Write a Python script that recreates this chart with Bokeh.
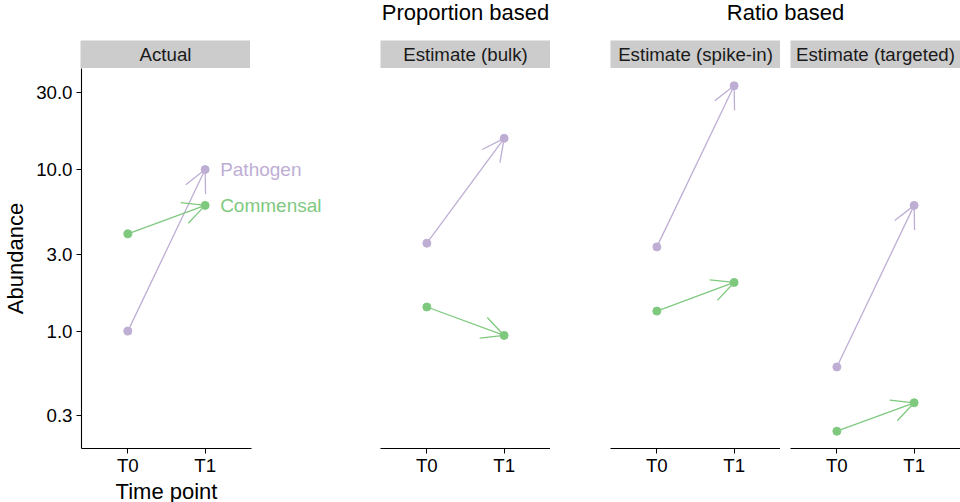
import math
from bokeh.plotting import figure
from bokeh.layouts import row, column
from bokeh.models import (Range1d, FixedTicker, NumeralTickFormatter, Arrow, OpenHead,
                          ColumnDataSource, Spacer, LabelSet)
from bokeh.core.properties import value
from bokeh.embed import file_html
from bokeh.resources import INLINE

# ---------------- data ----------------
times = ["T0", "T1"]
panels = ["Actual", "Estimate (bulk)", "Estimate (spike-in)", "Estimate (targeted)"]
groups = ["Proportion based", "Ratio based"]
species = ["Pathogen", "Commensal"]
colors = ["#BEAED4", "#7FC97F"]
x_title = "Time point"
y_title = "Abundance"

pathogen_actual = [1.0, 10.0]
commensal_actual = [4.0, 6.0]
pathogen_bulk = [3.5, 15.6]
commensal_bulk = [1.41, 0.94]
pathogen_spike = [3.32, 33.0]
commensal_spike = [1.33, 2.0]
pathogen_targeted = [0.60, 6.0]
commensal_targeted = [0.24, 0.36]

y_ticks = [0.3, 1.0, 3.0, 10.0, 30.0]

panel_data = [
    (pathogen_actual, commensal_actual),
    (pathogen_bulk, commensal_bulk),
    (pathogen_spike, commensal_spike),
    (pathogen_targeted, commensal_targeted),
]

# ---------------- scales ----------------
xpos = [i + 1 for i in range(len(times))]
all_vals = [v for pair in panel_data for s in pair for v in s]
lo, hi = math.log10(min(all_vals)), math.log10(max(all_vals))
pad = 0.05 * (hi - lo)
y_range = Range1d(10 ** (lo - pad), 10 ** (hi + pad))
x_pad = 0.6
x_lo, x_hi = xpos[0] - x_pad, xpos[-1] + x_pad

FONT = "Liberation Sans"
W = 170
FH = 380
BOTTOM = 54
P1_BOTTOM = 27
LABEL_SPACE = 90  # room on the right of the first panel for the series labels
lefts = [80, 39, 60, 10]
rights = [0, 0, 0, 1]
px_per_unit = W / (x_hi - x_lo)


def make_panel(i):
    fw = W + (LABEL_SPACE if i == 0 else 0)
    xr_hi = x_hi + (LABEL_SPACE / px_per_unit if i == 0 else 0)
    p = figure(frame_width=fw, frame_height=FH, min_border_left=lefts[i],
               min_border_right=rights[i], min_border_top=0,
               min_border_bottom=P1_BOTTOM if i == 0 else BOTTOM,
               x_range=Range1d(x_lo, xr_hi), y_range=y_range,
               y_axis_type="log", y_axis_location="left" if i == 0 else None,
               toolbar_location=None, output_backend="svg", outline_line_color=None,
               background_fill_color="white", border_fill_color="white")
    p.grid.visible = False
    ax = p.xaxis[0]
    ax.bounds = (x_lo, x_hi)
    ax.ticker = FixedTicker(ticks=xpos)
    ax.major_label_overrides = {x: t for x, t in zip(xpos, times)}
    axes = [ax]
    if i == 0:
        ya = p.yaxis[0]
        ya.ticker = FixedTicker(ticks=y_ticks)
        ya.formatter = NumeralTickFormatter(format="0.0")
        ya.axis_label = y_title
        ya.axis_label_standoff = 5
        ya.major_label_standoff = 4
        axes.append(ya)
    for a in axes:
        a.axis_line_color = "black"
        a.axis_line_width = 1.1
        a.major_tick_line_color = "black"
        a.major_tick_out = 5
        a.major_tick_in = 0
        a.minor_tick_line_color = None
        a.major_label_text_font = FONT
        a.major_label_text_font_size = "18.7px"
        a.major_label_text_color = "black"
        a.axis_label_text_font = FONT
        a.axis_label_text_font_size = "22px"
        a.axis_label_text_font_style = "normal"
        a.axis_label_text_color = "black"
    ax.major_label_standoff = 1

    for vals, col, name in zip(panel_data[i], colors, species):
        src = ColumnDataSource(dict(x=xpos, y=vals))
        p.line("x", "y", source=src, line_color=col, line_width=1.3)
        p.add_layout(Arrow(end=OpenHead(size=22, line_color=col, line_width=1.3),
                           x_start=xpos[0], y_start=vals[0], x_end=xpos[-1], y_end=vals[-1],
                           line_color=col, line_width=1.3, line_alpha=0))
        p.scatter("x", "y", source=src, size=8, color=col)
        if i == 0:
            lsrc = ColumnDataSource(dict(x=[xpos[-1]], y=[vals[-1]], t=[name]))
            p.add_layout(LabelSet(x="x", y="y", text="t", source=lsrc, x_offset=15,
                                  text_baseline="middle", text_align="left", text_color=col,
                                  text_font=value(FONT), text_font_size="19px"))
    return p


def make_box(text, left, width, height, fill, size, ypos, right=0, color=None):
    f = figure(frame_width=width, frame_height=height, min_border_left=left,
               min_border_right=right, min_border_top=0, min_border_bottom=0,
               x_range=Range1d(0, 1), y_range=Range1d(0, 1),
               x_axis_location=None, y_axis_location=None,
               toolbar_location=None, output_backend="svg", outline_line_color=None,
               background_fill_color=fill, border_fill_color="white")
    f.grid.visible = False
    f.text(x=[0.5], y=[ypos], text=[text], text_align="center", text_baseline="middle",
           text_font=value(FONT), text_font_size=size,
           text_color=color or ("#1a1a1a" if fill else "black"))
    return f


TITLE_H = 40
STRIP_H = 28
figs = [make_panel(i) for i in range(4)]
strips = [make_box(panels[i], lefts[i], W, STRIP_H, "#CCCCCC", "18.7px", 0.5, rights[i])
          for i in range(4)]
xlab = make_box(x_title, lefts[0], W, BOTTOM - P1_BOTTOM, None, "22px", 0.53,
                LABEL_SPACE)

col1 = column(Spacer(width=lefts[0] + W + LABEL_SPACE, height=TITLE_H),
              row(strips[0], Spacer(width=LABEL_SPACE, height=STRIP_H)), figs[0], xlab)
col2 = column(make_box(groups[0], lefts[1], W, TITLE_H, None, "22px", 0.69), strips[1], figs[1])
ratio_w = W + lefts[3] + W
col34 = column(make_box(groups[1], lefts[2], ratio_w, TITLE_H, None, "22px", 0.69, rights[3]),
               row(column(strips[2], figs[2]), column(strips[3], figs[3])))
layout = row(col1, col2, col34)

open("out.html", "w").write(file_html(layout, INLINE))
